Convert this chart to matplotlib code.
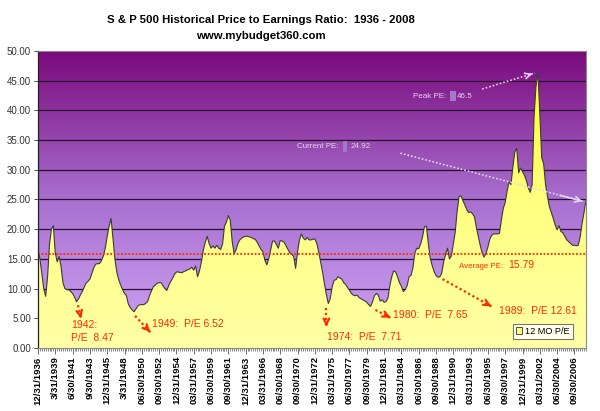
#!/usr/bin/env python3
"""
S&P 500 历史市盈率 (1936 - 2008) 面积图
"""

import matplotlib
matplotlib.use('Agg')
import matplotlib.pyplot as plt
from matplotlib.colors import LinearSegmentedColormap
from matplotlib.patches import Rectangle
import numpy as np

plt.rcParams['font.family'] = ['Liberation Sans', 'DejaVu Sans']

# 季度 P/E (12/31/1936 起, 每季度一个值)
pe_values = [
    16.6, 15.0, 12.5, 10.0, 8.7, 12.0, 17.5, 20.0, 20.6, 16.0,
    14.5, 15.4, 13.7, 11.0, 10.0, 9.8, 9.8, 9.5, 9.2, 8.6,
    7.8, 8.2, 8.9, 9.5, 10.2, 10.9, 11.2, 11.6, 12.5, 13.5,
    14.1, 14.2, 14.2, 14.7, 15.5, 16.8, 18.8, 20.5, 21.8, 18.5,
    15.0, 12.8, 11.5, 10.6, 9.8, 9.2, 8.8, 7.4, 6.8, 6.4,
    6.1, 6.6, 7.1, 7.3, 7.3, 7.3, 7.5, 7.8, 8.8, 9.6,
    10.3, 10.6, 10.9, 11.0, 11.0, 10.5, 10.0, 9.7, 10.5, 11.2,
    11.7, 12.4, 12.8, 12.8, 12.7, 12.7, 12.9, 13.0, 13.2, 13.3,
    13.6, 13.1, 13.8, 12.0, 13.0, 14.5, 16.5, 17.8, 18.8, 17.6,
    16.8, 17.2, 16.8, 17.3, 16.8, 16.6, 17.5, 20.5, 21.2, 22.3,
    21.5, 18.0, 15.9, 16.5, 17.6, 18.2, 18.5, 18.7, 18.8, 18.8,
    18.7, 18.6, 18.4, 18.3, 17.8, 17.2, 16.6, 16.2, 14.8, 14.0,
    15.0, 16.5, 18.0, 18.0, 17.4, 16.8, 18.1, 18.0, 17.8, 17.2,
    16.6, 16.0, 15.8, 15.4, 13.4, 16.2, 18.2, 19.2, 18.5, 18.2,
    18.6, 18.2, 18.2, 18.3, 18.4, 17.6, 16.2, 14.5, 12.8, 10.8,
    9.0, 7.5, 8.3, 10.3, 11.4, 11.5, 12.0, 11.8, 11.6, 11.0,
    10.7, 10.2, 9.7, 9.2, 8.9, 8.8, 8.9, 8.5, 8.3, 8.1,
    7.9, 7.7, 7.3, 7.0, 7.8, 8.8, 9.2, 8.9, 7.9, 8.1,
    7.7, 7.8, 8.4, 10.5, 12.0, 13.0, 12.8, 12.0, 11.0, 10.4,
    9.5, 9.8, 10.5, 12.0, 12.2, 13.5, 16.0, 16.8, 16.7, 17.5,
    18.7, 20.4, 20.5, 17.6, 15.1, 13.9, 12.9, 12.2, 11.9, 12.0,
    12.6, 14.5, 15.8, 16.8, 15.0, 15.5, 17.5, 19.5, 23.0, 25.5,
    25.6, 24.8, 24.1, 23.3, 22.8, 22.9, 22.6, 22.1, 20.3, 18.8,
    17.3, 16.0, 15.3, 15.9, 17.0, 18.3, 19.0, 19.2, 19.2, 19.2,
    19.3, 21.5, 23.5, 24.5, 26.4, 28.0, 27.5, 30.5, 33.0, 33.6,
    29.5, 30.3, 29.7, 29.1, 28.2, 27.0, 26.2, 27.5, 38.9, 44.0,
    46.5, 39.5, 32.0, 31.0, 27.5, 25.5, 23.8, 22.8, 21.8, 20.7,
    19.9, 20.6, 19.6, 19.4, 18.8, 18.2, 17.9, 17.6, 17.3, 17.3,
    17.2, 17.3, 18.7, 21.0, 22.8, 24.92,
]

# x 轴标签 (每 9 个季度一个)
tick_labels = [
    '12/31/1936', '3/31/1939', '6/30/1941', '9/30/1943', '12/31/1945',
    '3/31/1948', '06/30/1950', '09/30/1952', '12/31/1954', '03/31/1957',
    '06/30/1959', '09/30/1961', '12/31/1963', '03/31/1966', '06/30/1968',
    '09/30/1970', '12/31/1972', '03/31/1975', '06/30/1977', '09/30/1979',
    '12/31/1981', '03/31/1984', '06/30/1986', '09/30/1988', '12/31/1990',
    '03/31/1993', '06/30/1995', '09/30/1997', '12/31/1999', '03/31/2002',
    '06/30/2004', '09/30/2006',
]
tick_step = 9

average_pe = 15.79
peak_pe = 46.5
current_pe = 24.92

# 低点标注: (文字, 文字位置 q, 文字位置 pe, 箭头起点, 箭头终点)
lows = [
    ('1942:', 17.2, 3.9, None, None),
    ('P/E  8.47', 17.2, 1.6, (20.8, 7.2), (22.4, 5.0)),
    ('1949:  P/E 6.52', 59.5, 4.0, (50.5, 5.4), (58.3, 2.7)),
    ('1974:  P/E  7.71', 150.5, 1.85, (150.0, 6.7), (150.0, 3.6)),
    ('1980:  P/E  7.65', 184.8, 5.55, (175.5, 6.4), (183.3, 5.1)),
    ('1989:  P/E 12.61', 240.0, 6.2, (210.4, 11.6), (237.0, 6.8)),
]

RED = '#FF2A00'
PALE = '#E6D2F2'


def dotted_arrow(ax, start, end, color, lw=1.6):
    """虚线 + 实心箭头头部"""
    ax.plot([start[0], end[0]], [start[1], end[1]], linestyle=(0, (1, 1.2)),
            color=color, lw=lw, zorder=6)
    dx, dy = end[0] - start[0], end[1] - start[1]
    ax.annotate('', xy=end, xytext=(end[0] - dx * 0.15, end[1] - dy * 0.15),
                arrowprops=dict(arrowstyle='->', color=color, lw=lw,
                                mutation_scale=10), zorder=6)


def main():
    pe = np.array(pe_values)
    x = np.arange(len(pe))

    fig = plt.figure(figsize=(6.0, 4.11), dpi=100)
    ax = fig.add_axes([0.0633, 0.1533, 0.9133, 0.7226])
    xmax = len(pe) - 1
    ax.set_xlim(0, xmax)
    ax.set_ylim(0, 50)

    # 紫色渐变背景
    bg_cmap = LinearSegmentedColormap.from_list('bg', ['#D0A6F7', '#A870CF', '#7A0A7B'])
    grad = np.linspace(0, 1, 256).reshape(-1, 1)
    ax.imshow(grad, extent=[0, xmax, 0, 50], origin='lower', aspect='auto',
              cmap=bg_cmap, zorder=0)

    # 网格线
    for g in range(5, 50, 5):
        ax.axhline(g, color='#2A1030', lw=0.9, zorder=1)

    # 黄色面积 (渐变填充)
    poly = ax.fill_between(x, pe, 0, facecolor='none', edgecolor='none', zorder=2)
    fill_cmap = LinearSegmentedColormap.from_list('fill', ['#FFFFA6', '#FFFF80', '#FFFF20'])
    im = ax.imshow(grad, extent=[0, xmax, 0, 50], origin='lower', aspect='auto',
                   cmap=fill_cmap, zorder=2)
    im.set_clip_path(poly.get_paths()[0], transform=ax.transData)
    ax.plot(x, pe, color='#3A3A3A', lw=0.8, zorder=3)

    # 平均线
    ax.axhline(average_pe, color=RED, lw=1.3, linestyle=(0, (1, 1)), zorder=4)

    # 图例
    handle = Rectangle((0, 0), 1, 1, facecolor='#FFFF80', edgecolor='#333333', lw=0.6)
    leg = ax.legend([handle], ['12 MO P/E'], loc='lower right',
                    bbox_to_anchor=(0.976, 0.03), fontsize=6.6, frameon=True,
                    fancybox=False, handlelength=0.7, handleheight=0.7,
                    handletextpad=0.3, borderpad=0.35, borderaxespad=0)
    leg.get_frame().set_edgecolor('#555555')
    leg.get_frame().set_linewidth(0.8)
    leg.set_zorder(7)

    # 低点标注
    for text, tx, ty, a0, a1 in lows:
        ax.text(tx, ty, text, color=RED, fontsize=7.5, ha='left', va='center', zorder=6)
        if a0 is not None:
            dotted_arrow(ax, a0, a1, RED)

    # 平均值文字
    ax.text(218.8, 13.8, 'Average PE:', color=RED, fontsize=5.7, ha='left', va='center', zorder=6)
    ax.text(244.5, 13.9, f'{average_pe:.2f}', color=RED, fontsize=7.5, ha='left', va='center', zorder=6)

    # 峰值 / 当前值
    ax.text(195.3, 42.3, 'Peak PE:', color=PALE, fontsize=5.8, ha='left', va='center', zorder=6)
    ax.add_patch(Rectangle((214.4, 41.5), 3.0, 1.8, facecolor='#A27AC4', edgecolor='none', zorder=5))
    ax.text(218.0, 42.3, f'{peak_pe}', color=PALE, fontsize=5.8, ha='left', va='center', zorder=6)
    dotted_arrow(ax, (231.0, 43.6), (258.5, 46.3), PALE, lw=1.2)

    ax.text(134.5, 33.9, 'Current PE:', color=PALE, fontsize=5.8, ha='left', va='center', zorder=6)
    ax.add_patch(Rectangle((158.8, 33.0), 2.0, 1.8, facecolor='#A27AC4', edgecolor='none', zorder=5))
    ax.text(162.5, 33.9, f'{current_pe}', color=PALE, fontsize=5.8, ha='left', va='center', zorder=6)
    dotted_arrow(ax, (188.5, 32.8), (xmax - 0.5, 24.6), PALE, lw=1.2)

    # 坐标轴
    ax.set_yticks(np.arange(0, 51, 5))
    ax.set_yticklabels([f'{v:.2f}' for v in np.arange(0, 51, 5)], fontsize=7, color='#333333')
    ticks = np.arange(0, len(tick_labels) * tick_step, tick_step)
    ax.set_xticks(ticks)
    ax.set_xticklabels(tick_labels, rotation=90, fontsize=6.8, fontweight='bold')
    ax.set_xticks(x, minor=True)
    ax.tick_params(axis='x', which='major', length=4, width=0.6, color='#555555', pad=2)
    ax.tick_params(axis='x', which='minor', length=2.5, width=0.5, color='#555555')
    ax.tick_params(axis='y', length=3, width=0.6, color='#333333', pad=2)

    for side in ['top', 'right', 'bottom']:
        ax.spines[side].set_color('#8A8A8A')
        ax.spines[side].set_linewidth(0.8)
    ax.spines['left'].set_color('#222222')
    ax.spines['left'].set_linewidth(0.9)
    for s in ax.spines.values():
        s.set_zorder(8)

    # 标题
    fig.text(0.435, 0.951, 'S & P 500 Historical Price to Earnings Ratio:  1936 - 2008',
             ha='center', va='center', fontsize=8.2, fontweight='bold')
    fig.text(0.435, 0.912, 'www.mybudget360.com', ha='center', va='center',
             fontsize=8.2, fontweight='bold')

    fig.savefig('out.png', dpi=100)
    plt.close(fig)


if __name__ == '__main__':
    main()
